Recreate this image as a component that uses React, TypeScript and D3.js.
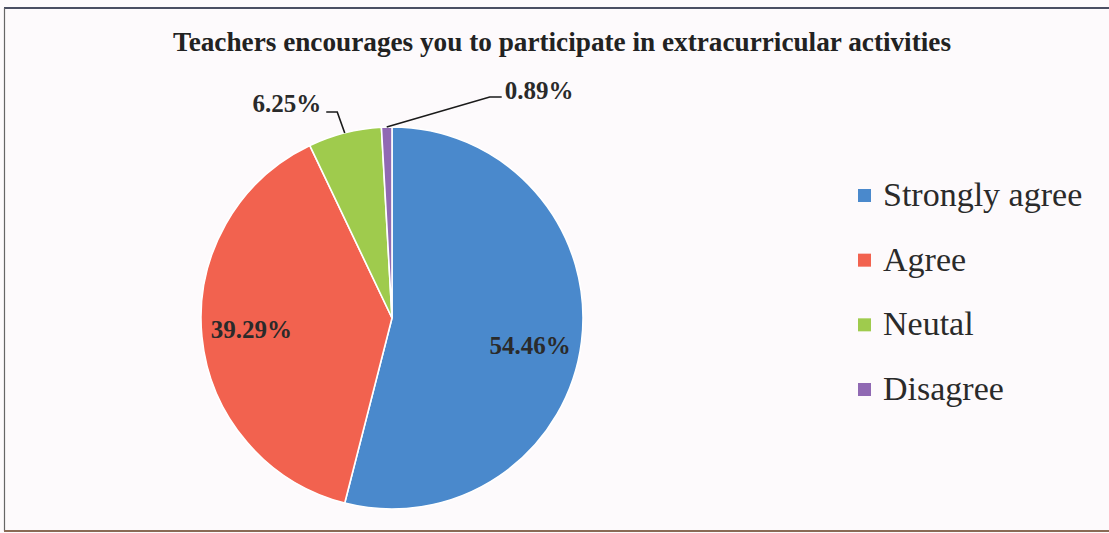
import React from "react";
import * as d3 from "d3";

const title = "Teachers encourages you to participate in extracurricular activities";
const categories = ["Strongly agree", "Agree", "Neutal", "Disagree"];
const percents = [54.46, 39.29, 6.25, 0.89];
const labels = ["54.46%", "39.29%", "6.25%", "0.89%"];
const colors = ["#4a89cc", "#f2624f", "#9fcb4d", "#9069b3"];

// layout
const W = 1109;
const H = 533;
const cx = 392;
const cy = 318;
const R = 191;
// which labels sit inside the slices, and small nudges for those
const inside = [true, true, false, false];
const insideNudge = [[-2, 10], [0, -2]];

export default function App() {
  const pie = d3.pie<number>().value((d) => d).sort(null);
  const arcs = pie(percents);
  const arcGen = d3.arc<d3.PieArcDatum<number>>().innerRadius(0).outerRadius(R);
  const labelArc = d3.arc<d3.PieArcDatum<number>>().innerRadius(R * 0.74).outerRadius(R * 0.74);

  const legendY = d3.scalePoint<string>().domain(categories).range([206, 400]);

  const font = "'Liberation Serif', 'Times New Roman', serif";

  return (
    <svg
      width={W}
      height={H}
      style={{ position: "absolute", left: 0, top: 0, background: "#fdfafc" }}
    >
      {/* frame */}
      <line x1={4} x2={W} y1={8} y2={8} stroke="#4b4f63" strokeWidth={2} />
      <line x1={4.5} x2={4.5} y1={8} y2={531} stroke="#666" strokeWidth={1.2} />
      <line x1={4} x2={W} y1={531} y2={531} stroke="#8a6a55" strokeWidth={2} />

      <text
        x={173}
        y={51}
        fontFamily={font}
        fontWeight="bold"
        fontSize={28}
        fill="#222"
        textLength={778}
        lengthAdjust="spacingAndGlyphs"
      >
        {title}
      </text>

      <g transform={`translate(${cx},${cy})`}>
        {arcs.map((a, i) => (
          <path key={i} d={arcGen(a) || ""} fill={colors[i]} stroke="#fff" strokeWidth={1.6} />
        ))}
        {arcs.map((a, i) => {
          if (!inside[i]) return null;
          const [x, y] = labelArc.centroid(a);
          return (
            <text
              key={"l" + i}
              x={x + insideNudge[i][0]}
              y={y + insideNudge[i][1]}
              textAnchor="middle"
              dominantBaseline="central"
              fontFamily={font}
              fontWeight="bold"
              fontSize={25}
              fill="#2a2a2a"
            >
              {labels[i]}
            </text>
          );
        })}
        {arcs.map((a, i) => {
          if (inside[i]) return null;
          const mid = (a.startAngle + a.endAngle) / 2;
          const px = Math.sin(mid) * R;
          const py = -Math.cos(mid) * R;
          const left = i === 2;
          const ex = left ? px - 7.5 : px + 103;
          const ey = left ? py - 21 : py - 30;
          const hx = left ? ex - 11 : ex + 12;
          const tx = left ? hx - 5 : hx + 3;
          return (
            <g key={"o" + i}>
              <polyline
                points={`${px},${py} ${ex},${ey} ${hx},${ey}`}
                fill="none"
                stroke="#1a1a1a"
                strokeWidth={1.6}
              />
              <text
                x={tx}
                y={ey + (left ? 0 : 2)}
                textAnchor={left ? "end" : "start"}
                fontFamily={font}
                fontWeight="bold"
                fontSize={25}
                fill="#2a2a2a"
              >
                {labels[i]}
              </text>
            </g>
          );
        })}
      </g>

      {categories.map((c, i) => {
        const y = legendY(c) as number;
        return (
          <g key={c}>
            <rect x={858} y={y - 17} width={13} height={13} fill={colors[i]} />
            <text x={883} y={y} fontFamily={font} fontSize={34} fill="#2a2a2a">
              {c}
            </text>
          </g>
        );
      })}
    </svg>
  );
}
